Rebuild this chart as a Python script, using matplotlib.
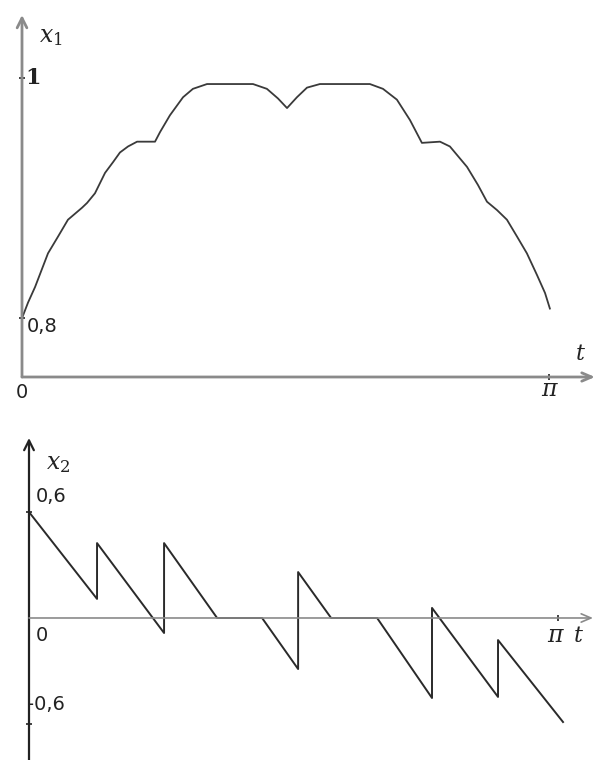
import numpy as np
import matplotlib
matplotlib.use("Agg")
import matplotlib.pyplot as plt

plt.rcParams["mathtext.fontset"] = "dejavuserif"

AXIS = "#8a8a8a"; INK = "#3a3a3a"

# x1(t)
t1 = [0.0, 0.036, 0.078, 0.155, 0.215, 0.274, 0.358, 0.388, 0.435, 0.495,
      0.543, 0.584, 0.632, 0.686, 0.793, 0.823, 0.882, 0.960, 1.019, 1.103,
      1.377, 1.460, 1.526, 1.580, 1.639, 1.699, 1.776, 2.074, 2.152, 2.235,
      2.313, 2.384, 2.492, 2.551, 2.653, 2.718, 2.772, 2.832, 2.891, 2.951,
      3.010, 3.070, 3.118, 3.147]
x1 = [0.800, 0.813, 0.826, 0.854, 0.868, 0.882, 0.892, 0.896, 0.904, 0.921,
      0.930, 0.938, 0.943, 0.947, 0.947, 0.955, 0.969, 0.984, 0.991, 0.995,
      0.995, 0.991, 0.983, 0.975, 0.984, 0.992, 0.995, 0.995, 0.991, 0.982,
      0.965, 0.946, 0.947, 0.943, 0.926, 0.911, 0.897, 0.890, 0.882, 0.868,
      0.854, 0.836, 0.821, 0.808]

# x2(t): piecewise linear with jumps (repeated t = vertical jump)
t2 = [0.0, 0.404, 0.404, 0.802, 0.802, 1.117, 1.384, 1.598, 1.598, 1.794,
      2.067, 2.393, 2.393, 2.785, 2.785, 3.171]
x2 = [0.600, 0.108, 0.424, -0.085, 0.424, 0.0, 0.0, -0.289, 0.260, 0.0,
      0.0, -0.453, 0.057, -0.447, -0.125, -0.589]

W, H = 593, 760
fig = plt.figure(figsize=(W / 100, H / 100), dpi=100)


def panel(px_left, px_right, px_top, px_bot, xlim, ylim, y0):
    ax = fig.add_axes([px_left / W, 1 - px_bot / H,
                       (px_right - px_left) / W, (px_bot - px_top) / H])
    ax.set_xlim(*xlim); ax.set_ylim(*ylim)
    for s in ax.spines.values():
        s.set_visible(False)
    ax.spines["bottom"].set_position(("data", y0))
    ax.tick_params(labelleft=False, labelbottom=False, length=5,
                   width=1.2, color="#222", direction="inout")
    return ax


def arrows(ax, y0, ybot, ycolor, ylw, xlw):
    ax.annotate("", xy=(0, ax.get_ylim()[1]), xytext=(0, ybot),
                arrowprops=dict(arrowstyle="->,head_length=0.7,head_width=0.35",
                                color=ycolor, lw=ylw, shrinkA=0, shrinkB=0))
    ax.annotate("", xy=(ax.get_xlim()[1], y0), xytext=(0, y0),
                arrowprops=dict(arrowstyle="->,head_length=0.7,head_width=0.3",
                                color=AXIS, lw=xlw, shrinkA=0, shrinkB=0))


serif = dict(family="DejaVu Serif", style="italic", color="#222")
plain = dict(family="DejaVu Sans", color="#222", fontsize=14)

# upper panel
a1 = panel(22, 595, 15, 377, (0, 3.416), (0.751, 1.0525), 0.751)
a1.plot(t1, x1, color=INK, lw=1.3)
a1.set_yticks([0.8, 1.0]); a1.set_xticks([np.pi])
arrows(a1, 0.751, 0.751, AXIS, 2.0, 2.0)
a1.text(0.1, 1.035, "$x_1$", fontsize=17, color="#222", va="center")
a1.text(0.02, 1.0, "1", fontsize=16, fontweight="bold", family="DejaVu Serif",
        color="#222", va="center")
a1.text(0.03, 0.793, "0,8", va="center", **plain)
a1.text(0.0, 0.738, "0", ha="center", va="center", **plain)
a1.text(np.pi, 0.741, "π", ha="center", va="center", fontsize=17, **serif)
a1.text(3.33, 0.770, "t", ha="center", va="center", fontsize=16, **serif)

# lower panel
a2 = panel(29, 593, 438, 760, (0, 3.349), (-0.804, 1.019), 0.0)
a2.plot(t2, x2, color="#2a2a2a", lw=1.4)
a2.set_yticks([0.6, -0.6]); a2.set_xticks([np.pi])
arrows(a2, 0.0, -0.804, "#222", 1.6, 1.2)
a2.text(0.1, 0.88, "$x_2$", fontsize=17, color="#222", va="center")
a2.text(0.04, 0.69, "0,6", va="center", **plain)
a2.text(0.04, -0.1, "0", va="center", **plain)
a2.text(-0.01, -0.49, "-0,6", va="center", **plain)
a2.text(np.pi - 0.02, -0.1, "π", ha="center", va="center", fontsize=17, **serif)
a2.text(3.26, -0.1, "t", ha="center", va="center", fontsize=16, **serif)

fig.savefig("out.png", dpi=100, facecolor="white")
